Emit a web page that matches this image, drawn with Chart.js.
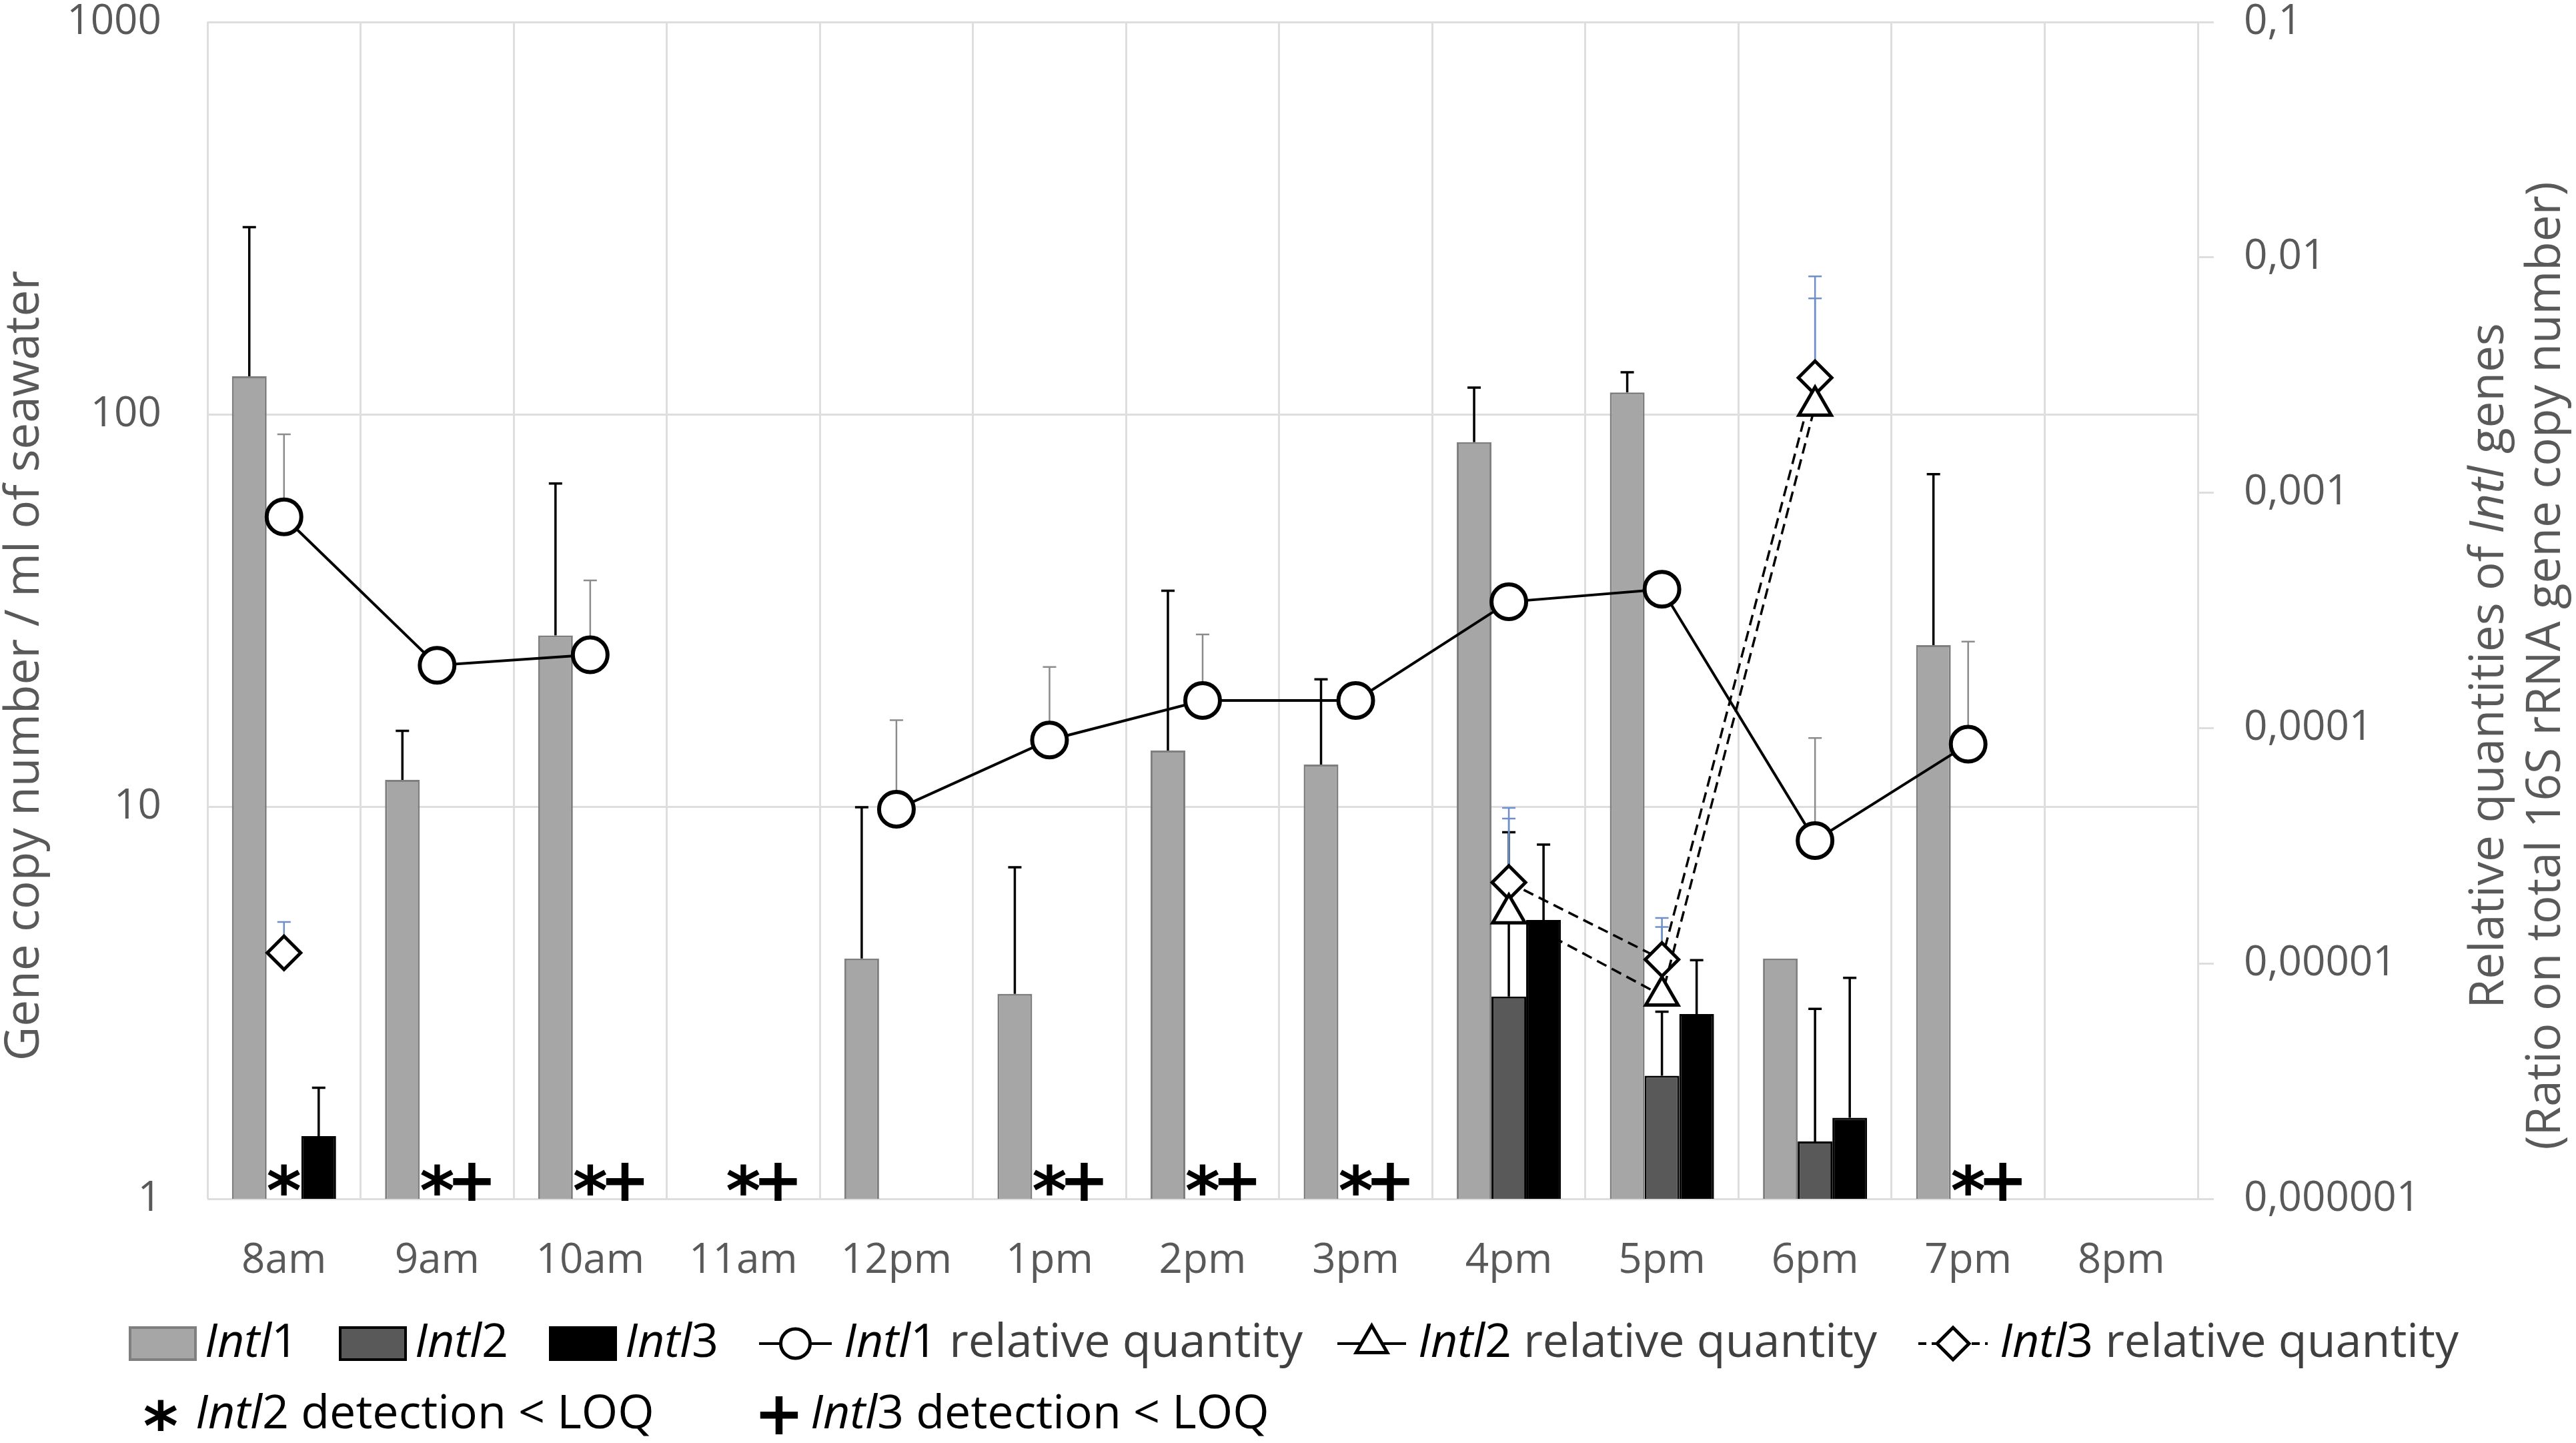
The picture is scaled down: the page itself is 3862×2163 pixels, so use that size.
<!DOCTYPE html>
<html>
<head>
<meta charset="utf-8">
<script src="https://cdn.jsdelivr.net/npm/chart.js@4.4.0/dist/chart.umd.min.js"></script>
<style>
  html, body { margin: 0; padding: 0; background: #fff; }
  canvas { display: block; }
</style>
</head>
<body>
<canvas id="chart" width="3862" height="2163" style="width:3862px;height:2163px"></canvas>
<script>
// Sampling hours
const hours = ['8am', '9am', '10am', '11am', '12pm', '1pm', '2pm', '3pm', '4pm', '5pm', '6pm', '7pm', '8pm'];

// Gene copy number / ml of seawater (left axis), error = top of the error bar
const intl1Copies    = [125, 11.7, 27.3, null, 4.1, 3.33, 13.9, 12.8, 84.9, 113.7, 4.1, 25.8, null];
const intl1CopiesErr = [300, 15.6, 66.6, null, 9.96, 7.0, 35.5, 21.1, 117, 128, null, 70.4, null];
const intl2Copies    = [null, null, null, null, null, null, null, null, 3.28, 2.06, 1.40, null, null];
const intl2CopiesErr = [null, null, null, null, null, null, null, null, 8.6, 3.0, 3.05, null, null];
const intl3Copies    = [1.445, null, null, null, null, null, null, null, 5.14, 2.96, 1.61, null, null];
const intl3CopiesErr = [1.92, null, null, null, null, null, null, null, 8.0, 4.06, 3.66, null, null];

// Relative quantities (ratio on 16S rRNA copies, right axis)
const intl1Rel    = [7.9e-4, 1.85e-4, 2.05e-4, null, 4.52e-5, 8.9e-5, 1.31e-4, 1.31e-4, 3.44e-4, 3.89e-4, 3.33e-5, 8.55e-5, null];
const intl1RelErr = [1.77e-3, null, 4.24e-4, null, 1.08e-4, 1.82e-4, 2.5e-4, null, null, null, 9.07e-5, 2.33e-4, null];
const intl2Rel    = [null, null, null, null, null, null, null, null, 1.63e-5, 7.3e-6, 2.34e-3, null, null];
const intl2RelErr = [null, null, null, null, null, null, null, null, 4.13e-5, 1.43e-5, 6.7e-3, null, null];
const intl3Rel    = [1.11e-5, null, null, null, null, null, null, null, 2.21e-5, 1.04e-5, 3.08e-3, null, null];
const intl3RelErr = [1.5e-5, null, null, null, null, null, null, null, 4.58e-5, 1.56e-5, 8.3e-3, null, null];

// Detection below LOQ flags
const intl2BelowLoq = [1, 1, 1, 1, 0, 1, 1, 1, 0, 0, 0, 1, 0];
const intl3BelowLoq = [0, 1, 1, 1, 0, 1, 1, 1, 0, 0, 0, 1, 0];

// Axis ticks
const leftTicks = [1, 10, 100, 1000];
const rightTicks = [0.000001, 0.00001, 0.0001, 0.001, 0.01, 0.1];
const rightTickLabels = ['0,000001', '0,00001', '0,0001', '0,001', '0,01', '0,1'];

const FONT = '"Open Sans", "Liberation Sans", sans-serif';
const gridColor = '#dedede';
const tickColor = '#595959';
const textColor = '#404040';

// Error bars (upper only), drawn under the datasets
const errorBarPlugin = {
    id: 'errorBars',
    beforeDatasetsDraw(chart) {
        const ctx = chart.ctx;
        chart.data.datasets.forEach((ds, di) => {
            if (!ds.errTop) return;
            const meta = chart.getDatasetMeta(di);
            const scale = chart.scales[meta.yAxisID];
            ctx.save();
            ctx.strokeStyle = ds.errColor;
            ctx.lineWidth = ds.errWidth;
            ds.errTop.forEach((v, i) => {
                if (v == null || ds.data[i] == null) return;
                const el = meta.data[i];
                const yTop = scale.getPixelForValue(v);
                ctx.beginPath();
                ctx.moveTo(el.x, el.y);
                ctx.lineTo(el.x, yTop);
                ctx.moveTo(el.x - ds.errCap, yTop);
                ctx.lineTo(el.x + ds.errCap, yTop);
                ctx.stroke();
            });
            ctx.restore();
        });
    }
};

function richWidth(ctx, parts, size) {
    let w = 0;
    parts.forEach(p => {
        ctx.font = (p.it ? 'italic ' : '') + size + 'px ' + FONT;
        w += ctx.measureText(p.t).width;
    });
    return w;
}

function richText(ctx, parts, x, y, size, color) {
    ctx.textBaseline = 'middle';
    ctx.textAlign = 'left';
    parts.forEach(p => {
        ctx.font = (p.it ? 'italic ' : '') + size + 'px ' + FONT;
        ctx.fillStyle = p.color || color;
        ctx.fillText(p.t, x, y);
        x += ctx.measureText(p.t).width;
    });
    return x;
}

// glyph centred on its own ink box
function glyph(ctx, ch, cx, cy, size) {
    ctx.font = 'bold ' + size + 'px "DejaVu Sans"';
    ctx.textAlign = 'center';
    ctx.textBaseline = 'alphabetic';
    const m = ctx.measureText(ch);
    const dy = (m.actualBoundingBoxAscent - m.actualBoundingBoxDescent) / 2;
    ctx.fillStyle = '#000';
    ctx.fillText(ch, cx, cy + dy);
}

const annotationPlugin = {
    id: 'annotations',
    afterDatasetsDraw(chart) {
        const ctx = chart.ctx;
        const m2 = chart.getDatasetMeta(1);
        const m3 = chart.getDatasetMeta(2);
        ctx.save();
        hours.forEach((h, i) => {
            if (intl2BelowLoq[i]) glyph(ctx, '*', m2.data[i].x, 1768, 100);
            if (intl3BelowLoq[i]) glyph(ctx, '+', m3.data[i].x, 1771, 90);
        });
        ctx.restore();
    },
    afterDraw(chart) {
        const ctx = chart.ctx;
        const H = Chart.helpers;
        ctx.save();

        // axis titles
        const titleSize = 71;
        const leftTitle = [{ t: 'Gene copy number / ml of seawater' }];
        const right1 = [{ t: 'Relative quantities of ' }, { t: 'Intl', it: true }, { t: ' genes' }];
        const right2 = [{ t: '(Ratio on total 16S rRNA gene copy number)' }];
        [[leftTitle, 38], [right1, 3733], [right2, 3818]].forEach(([parts, x]) => {
            const w = richWidth(ctx, parts, titleSize);
            ctx.save();
            ctx.translate(x, 998);
            ctx.rotate(-Math.PI / 2);
            richText(ctx, parts, -w / 2, 0, titleSize, tickColor);
            ctx.restore();
        });

        // legend row 1
        const ls = 70;
        const y1 = 2014;
        const boxes = [
            [195, '#a6a6a6', '#7f7f7f', '1'],
            [510, '#595959', '#000000', '2'],
            [825, '#000000', '#000000', '3']
        ];
        boxes.forEach(([x, fill, border, n]) => {
            ctx.fillStyle = fill;
            ctx.fillRect(x, y1 - 24, 98, 48);
            ctx.strokeStyle = border;
            ctx.lineWidth = 4;
            ctx.strokeRect(x, y1 - 24, 98, 48);
            richText(ctx, [{ t: 'Intl', it: true }, { t: n }], x + 112, y1, ls, '#000');
        });
        const lineItems = [
            [1138, 1247, 'circle', 22, '1', []],
            [2005, 2108, 'triangle', 27, '2', []],
            [2876, 2980, 'rectRot', 24, '3', [12, 8]]
        ];
        lineItems.forEach(([xa, xb, style, r, n, dash]) => {
            const cx = (xa + xb) / 2;
            ctx.strokeStyle = '#000';
            ctx.lineWidth = 4;
            ctx.setLineDash(dash);
            ctx.beginPath();
            ctx.moveTo(xa, y1);
            ctx.lineTo(xb, y1);
            ctx.stroke();
            ctx.setLineDash([]);
            ctx.fillStyle = '#fff';
            ctx.lineWidth = 5;
            H.drawPoint(ctx, { pointStyle: style, radius: r, borderWidth: 5, rotation: 0 }, cx, y1);
            richText(ctx, [{ t: 'Intl', it: true, color: '#000' }, { t: n, color: '#000' }, { t: ' relative quantity' }],
                xb + 18, y1, ls, textColor);
        });

        // legend row 2
        const y2 = 2121;
        glyph(ctx, '*', 241, y2, 100);
        richText(ctx, [{ t: 'Intl', it: true, color: '#000' }, { t: '2', color: '#000' }, { t: ' detection < LOQ' }], 293, y2, ls, '#000');
        glyph(ctx, '+', 1168, y2, 90);
        richText(ctx, [{ t: 'Intl', it: true, color: '#000' }, { t: '3', color: '#000' }, { t: ' detection < LOQ' }], 1215, y2, ls, '#000');

        ctx.restore();
    }
};

const barCommon = {
    type: 'bar',
    yAxisID: 'y',
    categoryPercentage: 0.68,
    barPercentage: 1.0,
    borderWidth: 3,
    order: 2,
    errColor: '#000',
    errWidth: 3.5,
    errCap: 10
};

const lineCommon = {
    type: 'line',
    yAxisID: 'y1',
    borderColor: '#000',
    pointBackgroundColor: '#fff',
    pointBorderColor: '#000',
    spanGaps: false,
    order: 0,
    errCap: 10
};

new Chart(document.getElementById('chart'), {
    type: 'bar',
    data: {
        labels: hours,
        datasets: [
            Object.assign({}, barCommon, {
                label: 'Intl1', data: intl1Copies, errTop: intl1CopiesErr,
                backgroundColor: '#a6a6a6', borderColor: '#7f7f7f'
            }),
            Object.assign({}, barCommon, {
                label: 'Intl2', data: intl2Copies, errTop: intl2CopiesErr,
                backgroundColor: '#595959', borderColor: '#000'
            }),
            Object.assign({}, barCommon, {
                label: 'Intl3', data: intl3Copies, errTop: intl3CopiesErr,
                backgroundColor: '#000', borderColor: '#000'
            }),
            Object.assign({}, lineCommon, {
                label: 'Intl1 relative quantity', data: intl1Rel, errTop: intl1RelErr,
                borderWidth: 4, pointStyle: 'circle', pointRadius: 26, pointBorderWidth: 6,
                errColor: '#8c8c8c', errWidth: 2.5
            }),
            Object.assign({}, lineCommon, {
                label: 'Intl2 relative quantity', data: intl2Rel, errTop: intl2RelErr,
                borderWidth: 3.5, borderDash: [16, 9], pointStyle: 'triangle', pointRadius: 28, pointBorderWidth: 5,
                errColor: '#6f8fc9', errWidth: 2.5
            }),
            Object.assign({}, lineCommon, {
                label: 'Intl3 relative quantity', data: intl3Rel, errTop: intl3RelErr,
                borderWidth: 3.5, borderDash: [16, 9], pointStyle: 'rectRot', pointRadius: 25, pointBorderWidth: 5,
                errColor: '#6f8fc9', errWidth: 2.5
            })
        ]
    },
    options: {
        responsive: false,
        devicePixelRatio: 1,
        animation: false,
        events: [],
        layout: { padding: { top: 30, left: 0, right: 0, bottom: 0 } },
        plugins: {
            legend: { display: false },
            tooltip: { enabled: false }
        },
        scales: {
            x: {
                offset: true,
                grid: { color: gridColor, lineWidth: 3, offset: true, drawTicks: false },
                border: { display: false },
                ticks: { color: tickColor, font: { family: FONT, size: 62 }, padding: 56, maxRotation: 0 },
                afterFit(s) { s.height = 366; s.paddingLeft = 0; s.paddingRight = 0; }
            },
            y: {
                type: 'logarithmic',
                position: 'left',
                min: 1,
                max: 1000,
                grid: { color: gridColor, lineWidth: 3, drawTicks: false },
                border: { display: false },
                afterBuildTicks(s) { s.ticks = leftTicks.map(v => ({ value: v })); },
                ticks: {
                    color: tickColor, font: { family: FONT, size: 62 }, padding: 69,
                    callback: v => String(v)
                },
                afterFit(s) { s.width = 311; s.paddingTop = 0; s.paddingBottom = 0; }
            },
            y1: {
                type: 'logarithmic',
                position: 'right',
                min: 0.000001,
                max: 0.1,
                grid: { drawOnChartArea: false, color: gridColor, lineWidth: 3, tickLength: 24 },
                border: { display: false },
                afterBuildTicks(s) { s.ticks = rightTicks.map(v => ({ value: v })); },
                ticks: {
                    color: tickColor, font: { family: FONT, size: 62 }, padding: 45,
                    callback: (v, i) => rightTickLabels[i]
                },
                afterFit(s) { s.width = 567; s.paddingTop = 0; s.paddingBottom = 0; }
            }
        }
    },
    plugins: [errorBarPlugin, annotationPlugin]
});
</script>
</body>
</html>
